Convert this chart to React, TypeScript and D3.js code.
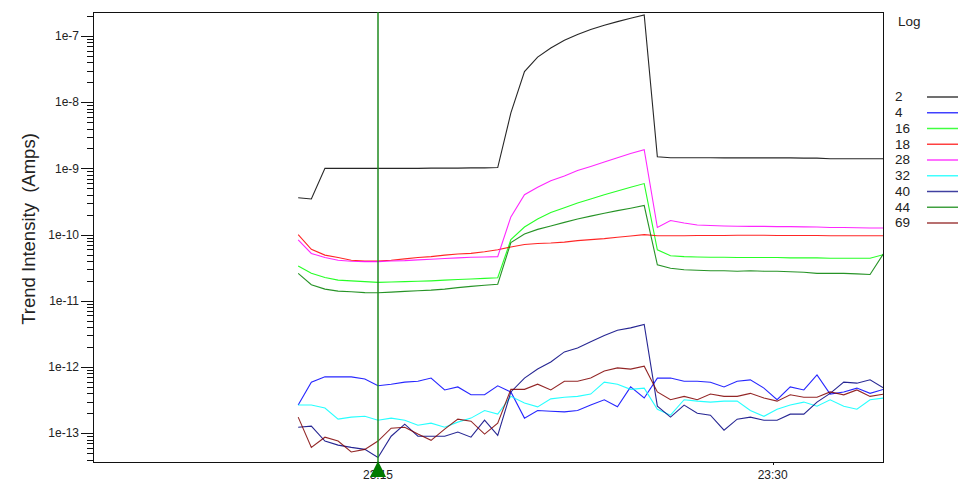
import React from "react";
import * as d3 from "d3";

// sample times (roughly every 30 s)
const times = [
  "23:11:58", "23:12:28", "23:12:59", "23:13:29", "23:13:59", "23:14:30", "23:15:00", "23:15:30",
  "23:16:01", "23:16:31", "23:17:01", "23:17:32", "23:18:02", "23:18:32", "23:19:03", "23:19:33",
  "23:20:03", "23:20:34", "23:21:04", "23:21:34", "23:22:05", "23:22:35", "23:23:05", "23:23:36",
  "23:24:06", "23:24:36", "23:25:07", "23:25:37", "23:26:07", "23:26:38", "23:27:08", "23:27:38",
  "23:28:09", "23:28:39", "23:29:09", "23:29:40", "23:30:10", "23:30:40", "23:31:11", "23:31:41",
  "23:32:11", "23:32:42", "23:33:12", "23:33:42", "23:34:13",
];

const mass2 = [
  3.6e-10, 3.45e-10, 1.0e-9, 1.0e-9, 1.0e-9, 1.0e-9, 1.0e-9, 1.0e-9,
  1.0e-9, 1.0e-9, 1.01e-9, 1.01e-9, 1.01e-9, 1.02e-9, 1.02e-9, 1.03e-9,
  6.9e-9, 2.9e-8, 4.8e-8, 6.6e-8, 8.6e-8, 1.05e-7, 1.25e-7, 1.45e-7,
  1.65e-7, 1.85e-7, 2.08e-7, 1.5e-9, 1.45e-9, 1.45e-9, 1.45e-9, 1.45e-9,
  1.44e-9, 1.44e-9, 1.45e-9, 1.44e-9, 1.44e-9, 1.44e-9, 1.43e-9, 1.43e-9,
  1.4e-9, 1.4e-9, 1.4e-9, 1.4e-9, 1.4e-9,
];
const mass4 = [
  2.66e-13, 5.9e-13, 7.1e-13, 7.1e-13, 7.1e-13, 6.6e-13, 5.2e-13, 5.5e-13,
  5.9e-13, 6.1e-13, 6.8e-13, 4.5e-13, 5.0e-13, 3.8e-13, 3.8e-13, 5.2e-13,
  4.2e-13, 1.69e-13, 2.2e-13, 2.15e-13, 2.1e-13, 2.2e-13, 2.66e-13, 3.2e-13,
  2.5e-13, 5.0e-13, 3.4e-13, 6.8e-13, 6.8e-13, 6.1e-13, 6.1e-13, 5.9e-13,
  5.0e-13, 6.1e-13, 6.4e-13, 4.8e-13, 3.2e-13, 5.0e-13, 4.5e-13, 7.6e-13,
  3.9e-13, 4.2e-13, 4.8e-13, 4.0e-13, 4.6e-13,
];
const mass16 = [
  3.35e-11, 2.6e-11, 2.25e-11, 2.05e-11, 2.0e-11, 1.95e-11, 1.9e-11, 1.92e-11,
  1.95e-11, 1.97e-11, 2.0e-11, 2.05e-11, 2.1e-11, 2.13e-11, 2.18e-11, 2.23e-11,
  8.4e-11, 1.3e-10, 1.72e-10, 2.15e-10, 2.55e-10, 3.0e-10, 3.45e-10, 4.0e-10,
  4.55e-10, 5.2e-10, 5.9e-10, 5.9e-11, 4.8e-11, 4.65e-11, 4.6e-11, 4.55e-11,
  4.55e-11, 4.5e-11, 4.5e-11, 4.5e-11, 4.5e-11, 4.45e-11, 4.45e-11, 4.45e-11,
  4.4e-11, 4.4e-11, 4.4e-11, 4.4e-11, 5.0e-11,
];
const mass18 = [
  1.0e-10, 6.0e-11, 4.9e-11, 4.5e-11, 4.1e-11, 4.0e-11, 4.0e-11, 4.1e-11,
  4.3e-11, 4.5e-11, 4.65e-11, 4.9e-11, 5.1e-11, 5.2e-11, 5.5e-11, 5.9e-11,
  6.5e-11, 7.1e-11, 7.35e-11, 7.45e-11, 7.7e-11, 8.1e-11, 8.4e-11, 8.7e-11,
  9.1e-11, 9.5e-11, 1.0e-10, 9.6e-11, 9.6e-11, 9.6e-11, 9.7e-11, 9.7e-11,
  9.7e-11, 9.8e-11, 9.8e-11, 9.8e-11, 9.7e-11, 9.7e-11, 9.7e-11, 9.7e-11,
  9.6e-11, 9.6e-11, 9.6e-11, 9.6e-11, 9.6e-11,
];
const mass28 = [
  8.3e-11, 5.2e-11, 4.5e-11, 4.1e-11, 3.95e-11, 3.9e-11, 3.9e-11, 4.0e-11,
  4.05e-11, 4.15e-11, 4.25e-11, 4.35e-11, 4.45e-11, 4.55e-11, 4.6e-11, 4.65e-11,
  1.85e-10, 4.0e-10, 5.2e-10, 6.5e-10, 7.7e-10, 9.3e-10, 1.07e-9, 1.25e-9,
  1.45e-9, 1.68e-9, 1.92e-9, 1.28e-10, 1.63e-10, 1.5e-10, 1.4e-10, 1.37e-10,
  1.35e-10, 1.34e-10, 1.33e-10, 1.33e-10, 1.32e-10, 1.32e-10, 1.31e-10, 1.3e-10,
  1.28e-10, 1.28e-10, 1.27e-10, 1.26e-10, 1.26e-10,
];
const mass32 = [
  2.66e-13, 2.66e-13, 2.4e-13, 1.63e-13, 1.75e-13, 1.8e-13, 1.57e-13, 1.69e-13,
  1.57e-13, 1.32e-13, 1.42e-13, 1.23e-13, 1.47e-13, 1.69e-13, 2.2e-13, 1.94e-13,
  3.6e-13, 2.85e-13, 2.5e-13, 3.3e-13, 3.5e-13, 3.6e-13, 3.9e-13, 5.9e-13,
  5.5e-13, 4.6e-13, 4.8e-13, 2.3e-13, 1.87e-13, 3.2e-13, 3.05e-13, 2.95e-13,
  3.05e-13, 3.05e-13, 2.2e-13, 1.8e-13, 2.3e-13, 2.66e-13, 2.95e-13, 2.56e-13,
  3.2e-13, 2.56e-13, 2.3e-13, 3.2e-13, 3.4e-13,
];
const mass40 = [
  1.23e-13, 1.28e-13, 7.6e-14, 6.6e-14, 6.1e-14, 5.7e-14, 4.3e-14, 9.0e-14,
  1.37e-13, 9.0e-14, 9.0e-14, 9.0e-14, 1.04e-13, 8.7e-14, 1.57e-13, 9.3e-14,
  4.2e-13, 6.8e-13, 9.3e-13, 1.19e-12, 1.69e-12, 1.94e-12, 2.4e-12, 3.0e-12,
  3.6e-12, 3.9e-12, 4.4e-12, 2.56e-13, 1.75e-13, 2.66e-13, 2.0e-13, 1.87e-13,
  1.11e-13, 1.63e-13, 1.75e-13, 1.57e-13, 1.57e-13, 1.94e-13, 1.94e-13, 2.95e-13,
  4.0e-13, 5.9e-13, 5.7e-13, 6.4e-13, 4.8e-13,
];
const mass44 = [
  2.6e-11, 1.75e-11, 1.5e-11, 1.4e-11, 1.37e-11, 1.33e-11, 1.32e-11, 1.35e-11,
  1.39e-11, 1.42e-11, 1.45e-11, 1.5e-11, 1.58e-11, 1.65e-11, 1.72e-11, 1.78e-11,
  7.6e-11, 1.02e-10, 1.2e-10, 1.35e-10, 1.53e-10, 1.72e-10, 1.9e-10, 2.1e-10,
  2.3e-10, 2.5e-10, 2.75e-10, 3.5e-11, 3.1e-11, 2.95e-11, 2.9e-11, 2.85e-11,
  2.85e-11, 2.8e-11, 2.85e-11, 2.8e-11, 2.8e-11, 2.75e-11, 2.7e-11, 2.6e-11,
  2.6e-11, 2.6e-11, 2.55e-11, 2.5e-11, 5.2e-11,
];
const mass69 = [
  1.75e-13, 6.1e-14, 8.7e-14, 7.6e-14, 5.2e-14, 5.7e-14, 7.6e-14, 1.19e-13,
  1.23e-13, 9.7e-14, 7.8e-14, 1.15e-13, 1.63e-13, 1.52e-13, 9.7e-14, 1.42e-13,
  4.6e-13, 4.6e-13, 5.5e-13, 4.5e-13, 6.1e-13, 6.1e-13, 6.8e-13, 8.7e-13,
  9.7e-13, 9.3e-13, 1.03e-12, 4.2e-13, 3.2e-13, 3.6e-13, 3.2e-13, 3.9e-13,
  3.6e-13, 3.6e-13, 4.0e-13, 3.4e-13, 3.05e-13, 3.8e-13, 3.5e-13, 3.5e-13,
  4.2e-13, 3.8e-13, 4.5e-13, 3.6e-13, 3.9e-13,
];

const legendLabels = ["2", "4", "16", "18", "28", "32", "40", "44", "69"];
const seriesValues = [mass2, mass4, mass16, mass18, mass28, mass32, mass40, mass44, mass69];
const seriesColors = ["#000000", "#0000ff", "#00ff00", "#ff0000", "#ff00ff", "#00ffff", "#000080", "#008000", "#800000"];

const yMajorTicks = [1e-7, 1e-8, 1e-9, 1e-10, 1e-11, 1e-12, 1e-13];
const yTickLabels = ["1e-7", "1e-8", "1e-9", "1e-10", "1e-11", "1e-12", "1e-13"];
const xTickTimes = ["23:15:00", "23:30:00"];
const xTickLabels = ["23:15", "23:30"];
const cursorTime = "23:15:00";
const yTitle = "Trend Intensity  (Amps)";
const legendTitle = "Log";

const FONT = "'Liberation Sans', Arial, sans-serif";

function parseT(s: string): Date {
  const [h, m, sec] = s.split(":").map(Number);
  return new Date(2000, 0, 1, h, m, sec);
}

export default function App() {
  const W = 968, H = 482;
  const left = 93, right = 883, top = 12, bottom = 462;

  const x = d3.scaleTime()
    .domain([parseT(xTickTimes[0]), parseT(xTickTimes[1])])
    .range([378, 772.7]);
  const y = d3.scaleLog().domain([1e-7, 1e-13]).range([36, 433.2]);

  const dates = times.map(parseT);
  const line = d3.line<number>()
    .x((_, i) => x(dates[i]))
    .y((v) => y(v));

  const minorTicks: number[] = [];
  for (let k = -14; k <= -7; k++) {
    for (let m = 2; m <= 9; m++) {
      const v = m * Math.pow(10, k);
      const yy = y(v);
      if (yy >= top && yy <= bottom) minorTicks.push(v);
    }
  }

  const cx = x(parseT(cursorTime));

  return (
    <svg width={W} height={H} style={{ position: "absolute", left: 0, top: 0, background: "#fff" }}>
      <defs>
        <clipPath id="plotClip">
          <rect x={left} y={top} width={right - left} height={bottom - top} />
        </clipPath>
      </defs>
      <rect x={0} y={0} width={W} height={H} fill="#fff" />

      <g clipPath="url(#plotClip)">
        {seriesValues.map((vals, si) => (
          <path key={si} d={line(vals) || ""} fill="none" stroke={seriesColors[si]} strokeWidth={1.1} strokeOpacity={0.85} />
        ))}
      </g>

      {/* frame */}
      <rect x={left + 0.5} y={top + 0.5} width={right - left} height={bottom - top} fill="none" stroke="#111" strokeWidth={1} />

      {/* y axis ticks */}
      {minorTicks.map((v, i) => (
        <line key={"mn" + i} x1={left - 6} x2={left} y1={Math.round(y(v)) + 0.5} y2={Math.round(y(v)) + 0.5} stroke="#111" strokeWidth={1} />
      ))}
      {yMajorTicks.map((v, i) => (
        <g key={"mj" + i}>
          <line x1={left - 12} x2={left} y1={Math.round(y(v)) + 0.5} y2={Math.round(y(v)) + 0.5} stroke="#111" strokeWidth={1} />
          <text x={left - 14} y={y(v)} dy="0.35em" textAnchor="end" fontFamily={FONT} fontSize={12} fill="#222">
            {yTickLabels[i]}
          </text>
        </g>
      ))}

      {/* x axis ticks */}
      {xTickTimes.map((t, i) => {
        const xx = x(parseT(t));
        return (
          <g key={"xt" + i}>
            <line x1={Math.round(xx) + 0.5} x2={Math.round(xx) + 0.5} y1={bottom} y2={bottom + 3} stroke="#111" />
            <text x={xx} y={bottom + 17} textAnchor="middle" fontFamily={FONT} fontSize={12} fill="#222">
              {xTickLabels[i]}
            </text>
          </g>
        );
      })}

      {/* y title */}
      <text transform={`translate(35,229) rotate(-90)`} textAnchor="middle" fontFamily={FONT} fontSize={18.5} fill="#222" style={{ whiteSpace: "pre" }}>
        {yTitle}
      </text>

      {/* cursor */}
      <line x1={cx} x2={cx} y1={top} y2={bottom} stroke="#1f8a1f" strokeWidth={1.5} />
      <path d={`M${cx},${bottom - 1} L${cx - 8},${bottom + 15} L${cx + 8},${bottom + 15} Z`} fill="#007a00" />

      {/* legend */}
      <text x={898} y={21} dy="0.35em" fontFamily={FONT} fontSize={13.5} fill="#222">{legendTitle}</text>
      {legendLabels.map((lab, i) => {
        const ly = 96.7 + i * 15.75;
        return (
          <g key={"lg" + i}>
            <text x={895} y={ly} dy="0.35em" fontFamily={FONT} fontSize={13.5} fill="#222">{lab}</text>
            <line x1={927} x2={958} y1={ly + 0.3} y2={ly + 0.3} stroke={seriesColors[i]} strokeWidth={1.5} strokeOpacity={0.75} />
          </g>
        );
      })}
    </svg>
  );
}
